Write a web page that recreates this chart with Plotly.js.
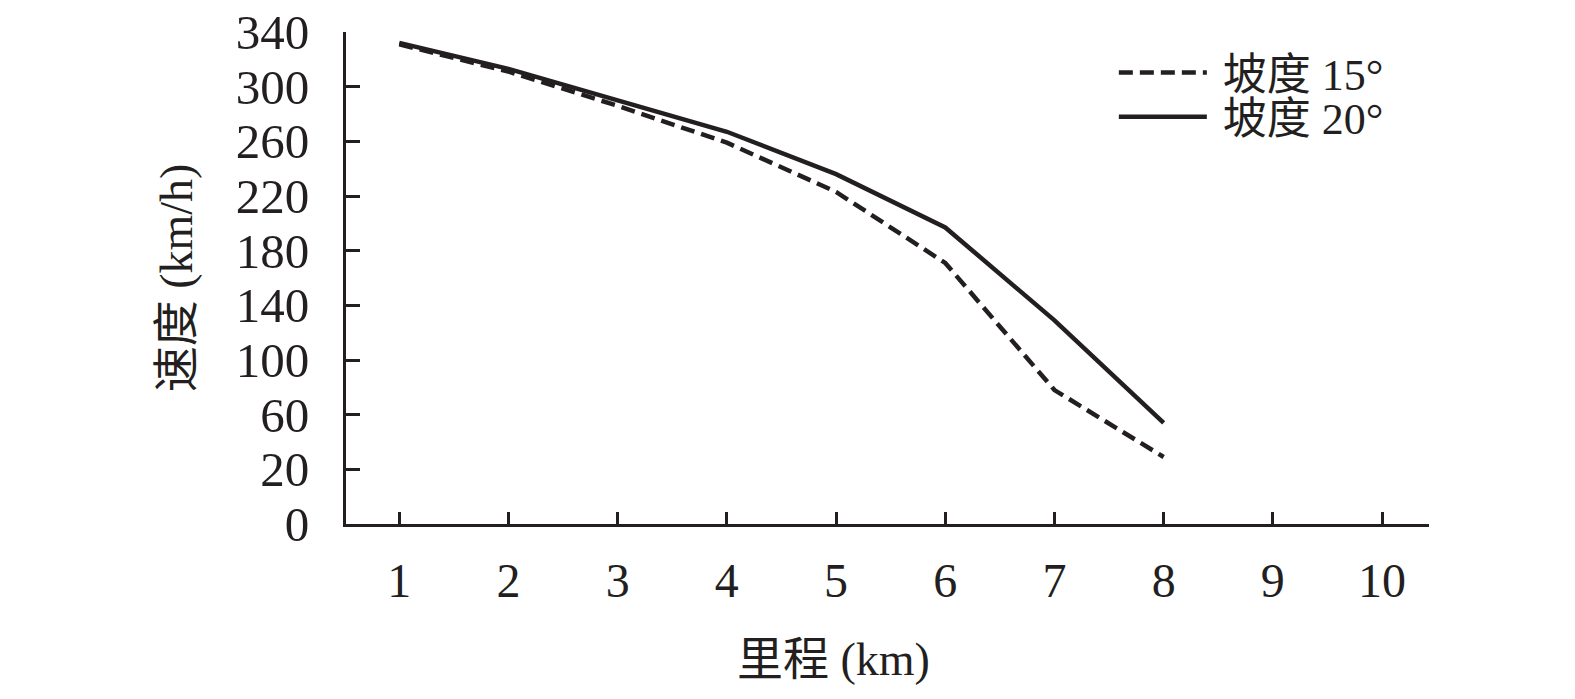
<!DOCTYPE html>
<html>
<head>
<meta charset="utf-8">
<script src="https://cdn.plot.ly/plotly-3.0.1.min.js"></script>
<style>
  html, body { margin: 0; padding: 0; background: #ffffff; }
  #chart { width: 1575px; height: 699px; }
</style>
</head>
<body>
<div id="chart"></div>
<script>
// 里程 (km)
const mileage = [1, 2, 3, 4, 5, 6, 7, 8];
// 速度 (km/h)
const speed15 = [331, 311, 286, 259, 223, 171, 78, 29];
const speed20 = [332, 313, 290, 267, 236, 197, 129, 54];

const seriesNames = ['坡度 15°', '坡度 20°'];
const xTickVals = [1, 2, 3, 4, 5, 6, 7, 8, 9, 10];
// the bottom label "0" sits where a linear scale would put -20
const yTickVals = [-20, 20, 60, 100, 140, 180, 220, 260, 300, 340];
const yTickText = ['0', '20', '60', '100', '140', '180', '220', '260', '300', '340'];

const INK = '#231f20';
const FONT = '"Liberation Serif", "Noto Sans CJK SC", serif';

const data = [
  {
    x: mileage, y: speed15, name: '\u00a0' + seriesNames[0], legend: 'legend',
    type: 'scatter', mode: 'lines',
    line: { color: INK, width: 4.5, dash: '14px,7px' }
  },
  {
    x: mileage, y: speed20, name: '\u00a0' + seriesNames[1], legend: 'legend2',
    type: 'scatter', mode: 'lines',
    line: { color: INK, width: 4.5 }
  }
];

// one legend per row so the rows can sit as close as in the original
const legendBase = {
  x: 0.709, xanchor: 'left', yanchor: 'middle',
  bgcolor: 'rgba(0,0,0,0)', borderwidth: 0,
  font: { family: FONT, size: 44, color: INK },
  itemwidth: 88
};

const layout = {
  width: 1575, height: 699,
  margin: { l: 346, r: 146, t: 32, b: 175 },
  paper_bgcolor: '#ffffff', plot_bgcolor: '#ffffff',
  font: { family: FONT, size: 48, color: INK },
  showlegend: true,
  legend: Object.assign({}, legendBase, { y: 0.917 }),
  legend2: Object.assign({}, legendBase, { y: 0.827 }),
  xaxis: {
    range: [0.512, 10.43],
    tickmode: 'array', tickvals: xTickVals,
    ticks: 'inside', ticklen: 12, tickwidth: 3, tickcolor: INK,
    showline: true, linewidth: 3, linecolor: INK,
    showgrid: false, zeroline: false,
    ticklabelstandoff: 12,
    tickfont: { family: FONT, size: 48, color: INK }
  },
  yaxis: {
    range: [-20, 340],
    tickmode: 'array', tickvals: yTickVals, ticktext: yTickText,
    ticks: 'inside', ticklen: 14, tickwidth: 3, tickcolor: INK,
    showline: true, linewidth: 3, linecolor: INK,
    showgrid: false, zeroline: false,
    ticklabelstandoff: 24,
    tickfont: { family: FONT, size: 49, color: INK },
    title: { text: '速度 (km/h)', standoff: 29, font: { family: FONT, size: 46, color: INK } }
  },
  annotations: [{
    text: '里程 (km)', xref: 'paper', yref: 'paper',
    x: 0.45, y: -0.275, xanchor: 'center', yanchor: 'middle',
    showarrow: false, font: { family: FONT, size: 46, color: INK }
  }]
};

Plotly.newPlot('chart', data, layout, { displayModeBar: false, responsive: false, staticPlot: true });
</script>
</body>
</html>
